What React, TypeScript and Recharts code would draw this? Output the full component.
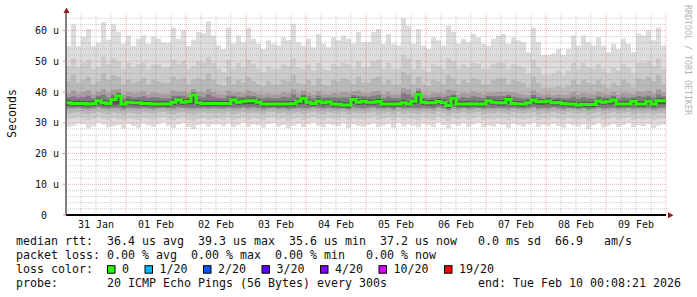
import React from "react";
import { ComposedChart, Area, Line, XAxis, YAxis, ReferenceLine } from "recharts";

// ---- data (2-hour columns, starting Jan 31 00:00, 120 columns) ----
const MED = [
  36.5,36.3,36.3,36.3,36.1,36.3,37.2,36.5,36.3,37.6, 38.7,36.1,36.7,36.5,36.5,36.3,36.3,36.1,36.1,36.1, 36.1,36.7,37.4,36.7,36.9,39.0,36.5,36.3,36.3,36.3,
  36.3,36.3,36.3,37.4,36.7,37.0,37.2,37.2,36.7,36.1, 36.1,36.1,36.1,36.1,36.1,36.2,37.0,38.0,36.7,36.3, 37.0,36.5,36.8,36.1,36.0,35.8,35.8,37.6,36.7,37.0,
  36.7,36.7,36.9,36.1,36.1,36.1,36.1,36.5,36.1,37.0, 39.3,36.7,36.5,36.5,36.9,36.6,35.6,38.0,36.1,36.1, 36.1,36.2,36.0,36.1,37.2,36.7,36.5,36.5,37.6,36.3,
  36.1,36.1,36.5,37.4,36.8,36.8,37.1,36.5,36.6,36.3, 36.1,36.1,35.8,36.0,35.9,35.9,37.1,36.7,36.9,37.4, 36.1,36.1,36.1,37.0,36.1,36.1,37.0,36.1,37.2,37.2,
];
const P1HI = [
  55,62,55,58,60.5,55,56,62.7,57,62, 59.5,55.7,58.4,55,57.3,58.4,55.7,58,57.3,56, 56,61,57.3,60,55,57,59.5,59,63,58.4,
  55.1,54,61,55.7,58.4,56.2,61,57.3,55.7,54, 56.8,55.7,55.1,57.8,56.8,62.2,56.2,55.1,57.3,54.6, 58.9,55.7,54.6,57.8,56.8,58.4,57.3,55.7,59.5,56.2,
  56.2,59.5,60.5,55.7,58.9,55.7,55.1,64,61.6,55.7, 60.5,55.1,54,57.8,56.8,55.1,61.6,59.5,55.7,57.3, 56.2,58.9,57.8,55.7,55.1,57.3,58.4,58.9,55.7,57.8,
  56.8,56.2,53,61,56.2,52,52,52.5,54,52, 54,58.4,55.1,58.4,56.2,55.1,57.8,55.1,53,55.7, 54,57.3,55.7,53,59,58.4,60,56.8,61,55.1,
];
const P1LO = [
  28.6,29.0,29.7,29.5,28.2,28.8,30.0,29.4,28.5,28.9, 29.3,28.1,29.6,29.0,28.4,29.8,29.2,28.7,29.5,30.1, 29.0,28.3,29.4,29.9,28.6,28.0,29.3,29.7,28.8,29.5,
  29.4,28.9,29.8,28.5,29.2,30.0,28.7,29.5,29.1,28.4, 29.6,29.9,28.8,29.3,28.2,29.0,29.7,28.6,29.4,30.1, 29.0,28.5,29.6,29.2,28.9,29.8,28.3,29.5,29.0,28.7,
  29.3,29.8,28.6,29.1,29.6,28.4,29.9,28.8,29.4,29.0, 28.5,29.7,29.2,28.6,30.0,29.3,28.2,29.5,29.0,29.8, 28.7,29.4,29.9,28.5,29.1,28.8,29.6,29.3,28.4,29.7,
  29.2,28.7,29.5,29.9,28.6,29.3,28.9,29.7,29.0,28.4, 29.6,29.1,28.8,29.4,28.0,29.2,29.8,28.5,29.0,29.6, 28.7,29.3,29.9,28.6,29.2,28.9,29.5,28.3,29.0,29.4,
];
const P2HI = [
  48.5,51,48,49.5,50.5,47.5,48,51.5,49,51, 50,47.5,49.5,48,49,49.5,47.5,49,49,48, 48,50.5,49,50,47.5,48.5,50,49.5,51.5,49.5,
  47.5,46.5,50.5,47.5,49.5,48,50.5,49,47.5,46.5, 48.5,47.5,47.5,49,48.5,51,48,47.5,49,47, 49.5,47.5,47,49,48.5,49.5,49,47.5,50,48,
  48,50,50.5,47.5,49.5,47.5,47.5,52,51,47.5, 50.5,47.5,46.5,49,48.5,47.5,51,50,47.5,49, 48,49.5,49,47.5,47.5,49,49.5,49.5,47.5,49,
  48.5,48,46,50.5,48,45.5,45.5,46,47,45.5, 47,49.5,47.5,49.5,48,47.5,49,47.5,46,48, 47,49,48,46,49.5,49.5,50,48.5,51,47.5,
];
const P2LO = [
  31.2,31.5,31.8,31.0,30.8,31.4,31.9,31.3,30.9,31.6, 31.1,30.7,31.5,31.2,30.9,31.7,31.3,31.0,31.6,31.8, 31.1,30.8,31.4,31.7,31.0,30.6,31.3,31.6,31.1,31.5,
  31.4,31.0,31.7,30.9,31.3,31.8,31.0,31.5,31.2,30.8, 31.6,31.8,31.1,31.4,30.7,31.2,31.6,30.9,31.5,31.9, 31.2,30.8,31.6,31.3,31.0,31.7,30.8,31.5,31.2,31.0,
  31.4,31.7,30.9,31.2,31.6,30.8,31.8,31.0,31.5,31.2, 30.8,31.6,31.3,30.9,31.9,31.4,30.6,31.5,31.2,31.7, 31.0,31.5,31.8,30.9,31.3,31.1,31.6,31.4,30.8,31.7,
  31.3,31.0,31.5,31.8,30.9,31.4,31.1,31.7,31.2,30.8, 31.6,31.3,31.0,31.5,30.6,31.3,31.7,30.9,31.2,31.6, 31.0,31.4,31.8,30.9,31.3,31.1,31.5,30.8,31.2,31.5,
];
const P3HI = [
  43.5,45.5,43,44,45,42.5,43.5,46,44,45.5, 45,42.5,44,43,43.5,44.5,42.5,44,43.5,43, 43,45,44,44.5,42.5,44,44.5,44,46,44,
  42.5,42,45,42.5,44,43,45,43.5,42.5,42, 43.5,42.5,42.5,44,43.5,45.5,43,42.5,44,42, 44.5,42.5,42,44,43.5,44.5,44,42.5,45,43,
  43,44.5,45,42.5,44,42.5,42.5,46.5,45.5,42.5, 45,42.5,42,44,43.5,42.5,45.5,44.5,42.5,44, 43,44.5,44,42.5,42.5,44,44.5,44.5,42.5,44,
  43.5,43,41.5,45,43,41.5,41.5,41.5,42,41.5, 42,44,42.5,44,43,42.5,44,42.5,41.5,43, 42,44,43,41.5,44.5,44,45,43.5,45.5,42.5,
];
const P3LO = [
  33.0,33.2,33.4,32.9,32.7,33.1,33.5,33.0,32.8,33.3, 33.0,32.6,33.2,33.0,32.8,33.4,33.1,32.9,33.3,33.5, 33.0,32.7,33.2,33.4,32.9,32.6,33.1,33.3,33.0,33.2,
  33.2,32.9,33.4,32.8,33.1,33.5,32.9,33.2,33.0,32.7, 33.3,33.5,33.0,33.2,32.6,33.0,33.3,32.8,33.2,33.6, 33.0,32.7,33.3,33.1,32.9,33.4,32.7,33.2,33.0,32.9,
  33.2,33.4,32.8,33.0,33.3,32.7,33.5,32.9,33.2,33.0, 32.7,33.3,33.1,32.8,33.6,33.2,32.5,33.2,33.0,33.4, 32.9,33.2,33.5,32.8,33.1,33.0,33.3,33.2,32.7,33.4,
  33.1,32.9,33.2,33.5,32.8,33.2,33.0,33.4,33.0,32.7, 33.3,33.1,32.9,33.2,32.6,33.1,33.4,32.8,33.0,33.3, 32.9,33.2,33.5,32.8,33.1,33.0,33.2,32.7,33.0,33.2,
];
const P4HI = [
  39.5,40.5,39.5,40,40.5,39.2,40,41,39.8,40.8, 41,39.3,40,39.6,39.8,40.2,39.3,39.8,39.6,39.4, 39.4,40.4,40,40.2,39.6,41,40,39.8,41,40,
  39.4,39.2,40.4,39.8,40,39.6,40.5,40,39.4,39.2, 39.6,39.3,39.3,40,39.7,40.8,39.6,40.5,39.8,39.2, 40.2,39.4,39.3,39.8,39.6,40,39.8,40.2,40.4,39.7,
  39.6,40.2,40.4,39.3,39.9,39.3,39.3,41.2,40.8,39.6, 41.2,39.4,39.2,39.8,39.7,39.4,40.8,40.5,39.3,39.8, 39.5,40.1,39.8,39.3,39.8,39.8,40,40,40,39.8,
  39.5,39.3,39,40.6,39.6,39.2,39.4,39,39.3,39, 39.2,40,39.2,39.8,39.5,39.3,40,39.6,39.3,40, 39.2,39.8,39.5,39.4,40.2,40,40.4,39.6,40.8,39.8,
];
const P4LO = [
  34.4,34.5,34.6,34.3,34.2,34.4,34.7,34.4,34.3,34.5, 34.4,34.1,34.5,34.4,34.3,34.6,34.4,34.2,34.5,34.6, 34.4,34.2,34.5,34.6,34.3,34.2,34.4,34.5,34.4,34.5,
  34.5,34.3,34.6,34.2,34.4,34.7,34.3,34.5,34.4,34.1, 34.5,34.6,34.3,34.4,34.1,34.3,34.5,34.2,34.4,34.7, 34.4,34.2,34.5,34.3,34.2,34.5,34.1,34.4,34.3,34.2,
  34.4,34.6,34.2,34.3,34.5,34.1,34.7,34.3,34.4,34.3, 34.2,34.5,34.4,34.2,34.7,34.4,34.0,34.5,34.3,34.6, 34.2,34.4,34.6,34.2,34.4,34.3,34.5,34.4,34.1,34.6,
  34.4,34.2,34.4,34.7,34.2,34.4,34.3,34.6,34.3,34.1, 34.5,34.4,34.2,34.4,34.0,34.3,34.6,34.2,34.3,34.5, 34.2,34.4,34.6,34.2,34.4,34.3,34.4,34.1,34.3,34.5,
];
const P5HI = [
  38.3,38.6,38.2,38.4,38.8,38.0,38.8,39.2,38.3,39.2, 39.8,38.0,38.6,38.2,38.4,38.6,38.1,38.4,38.2,38.0, 38.0,38.8,38.8,38.8,38.4,40.0,38.6,38.3,39.2,38.5,
  38.1,38.0,38.8,38.8,38.5,38.4,38.9,38.7,38.2,38.0, 38.2,38.0,38.0,38.5,38.3,39.2,38.4,39.2,38.6,38.0, 38.8,38.2,38.3,38.3,38.1,38.3,38.2,39.0,38.8,38.6,
  38.5,38.8,39.0,38.0,38.5,38.0,38.0,39.6,39.2,38.5, 40.4,38.2,38.0,38.4,38.5,38.2,38.8,39.2,38.0,38.4, 38.1,38.6,38.3,38.0,38.7,38.6,38.6,38.6,39.0,38.5,
  38.2,38.0,38.0,39.0,38.4,37.9,38.3,38.0,38.1,37.9, 37.9,38.5,37.8,38.4,38.0,37.9,38.6,38.3,38.2,38.8, 37.9,38.4,38.1,38.3,38.7,38.5,38.8,38.2,39.2,38.6,
];
const P5LO = [
  35.0,34.9,35.0,34.8,34.7,34.9,35.2,34.9,34.8,35.0, 35.0,34.6,35.0,34.9,34.8,35.0,34.9,34.7,34.9,35.0, 34.8,34.8,35.1,35.0,34.9,34.8,34.9,35.0,34.8,35.0,
  34.9,34.8,35.0,34.9,34.9,35.2,34.9,35.1,34.9,34.6, 34.9,35.0,34.7,34.9,34.6,34.8,35.0,34.9,34.9,35.1, 35.0,34.8,35.0,34.8,34.7,34.8,34.5,35.1,34.9,34.8,
  35.0,35.1,34.8,34.8,35.0,34.6,35.1,34.8,34.9,34.9, 34.8,35.0,34.9,34.7,35.2,34.9,34.3,35.1,34.8,35.0, 34.7,34.9,35.0,34.7,34.9,34.8,35.0,34.9,34.8,35.0,
  34.9,34.7,34.9,35.2,34.7,34.9,34.8,35.1,34.9,34.6, 34.9,34.8,34.6,34.8,34.5,34.7,35.0,34.7,34.8,35.0, 34.7,34.9,35.0,34.7,34.9,34.8,35.0,34.6,34.9,35.0,
];
const P6HI = [
  37.4,37.2,37.2,37.1,37.0,37.2,38.0,37.4,37.2,38.4, 39.4,37.0,37.6,37.3,37.4,37.2,37.1,37.0,37.0,37.0, 37.0,37.6,38.2,37.6,37.8,39.7,37.4,37.2,37.2,37.2,
  37.2,37.1,37.2,38.2,37.6,37.8,38.0,38.0,37.5,37.0, 37.0,37.0,37.0,37.0,37.0,37.1,37.8,38.8,37.5,37.2, 37.8,37.4,37.6,37.0,36.9,36.7,36.7,38.4,37.6,37.8,
  37.6,37.5,37.7,37.0,37.0,37.0,37.0,37.4,37.0,37.8, 40.0,37.6,37.4,37.4,37.7,37.5,36.6,38.8,37.0,37.0, 37.0,37.1,36.9,37.0,38.0,37.6,37.4,37.4,38.4,37.2,
  37.0,37.0,37.4,38.2,37.6,37.6,37.9,37.4,37.5,37.2, 37.0,37.0,36.7,36.9,36.8,36.8,37.9,37.6,37.7,38.2, 37.0,37.0,37.0,37.8,37.0,37.0,37.8,37.0,38.0,38.0,
];
const P6LO = [
  35.6,35.5,35.5,35.5,35.3,35.5,35.9,35.6,35.5,35.8, 35.9,35.3,35.8,35.6,35.6,35.5,35.5,35.3,35.3,35.3, 35.3,35.8,36.0,35.8,35.9,36.0,35.6,35.5,35.5,35.5,
  35.5,35.5,35.5,36.0,35.8,35.9,36.0,36.0,35.8,35.3, 35.3,35.3,35.3,35.3,35.3,35.4,35.9,36.2,35.8,35.5, 35.9,35.6,35.8,35.3,35.2,35.0,35.0,36.1,35.8,35.9,
  35.8,35.8,35.9,35.3,35.3,35.3,35.3,35.6,35.3,35.9, 36.3,35.8,35.6,35.6,35.9,35.7,34.8,36.2,35.3,35.3, 35.3,35.4,35.2,35.3,36.0,35.8,35.6,35.6,36.1,35.5,
  35.3,35.3,35.6,36.0,35.8,35.8,35.9,35.6,35.7,35.5, 35.3,35.3,35.0,35.2,35.1,35.1,35.9,35.8,35.9,36.0, 35.3,35.3,35.3,35.9,35.3,35.3,35.9,35.3,36.0,36.0,
];

const DAY_LABELS = ["31 Jan","01 Feb","02 Feb","03 Feb","04 Feb","05 Feb","06 Feb","07 Feb","08 Feb","09 Feb"];
const Y_LABEL_VALUES = [0, 10, 20, 30, 40, 50, 60];

const LEGEND_RTT = "median rtt:  36.4 us avg  39.3 us max  35.6 us min  37.2 us now   0.0 ms sd  66.9   am/s";
const LEGEND_LOSS = "packet loss: 0.00 % avg  0.00 % max  0.00 % min   0.00 % now";
const LEGEND_COLOR_TITLE = "loss color:";
const LOSS_LABELS = ["0", "1/20", "2/20", "3/20", "4/20", "10/20", "19/20"];
const LOSS_COLORS = ["#26ff00", "#00b8ff", "#0059ff", "#5e00ff", "#7e00ff", "#dd00ff", "#ff0000"];
const LEGEND_PROBE = "probe:       20 ICMP Echo Pings (56 Bytes) every 300s";
const LEGEND_END = "end: Tue Feb 10 00:08:21 2026";
const WATERMARK = "RRDTOOL / TOBI OETIKER";

const STEP_H = 2;
const N = MED.length;

const data = Array.from({ length: N + 1 }, (_, i) => {
  const j = Math.min(i, N - 1);
  return {
    t: i * STEP_H,
    b1: [P1LO[j], P1HI[j]],
    b2: [P2LO[j], P2HI[j]],
    b3: [P3LO[j], P3HI[j]],
    b4: [P4LO[j], P4HI[j]],
    b5: [P5LO[j], P5HI[j]],
    b6: [P6LO[j], P6HI[j]],
    med: MED[j],
  };
});

const MONO = '"DejaVu Sans Mono", monospace';
const W = 697;
const H = 297;

const labelTicks = DAY_LABELS.map((_, i) => 12 + 24 * i);
const minorV: number[] = [];
const majorV: number[] = [];
for (let h = 6; h <= 240; h += 6) (h % 24 === 0 ? majorV : minorV).push(h);
const minorH: number[] = [];
for (let v = 2; v <= 64; v += 2) if (v % 10 !== 0) minorH.push(v);
const majorH = Y_LABEL_VALUES.filter((v) => v > 0);

const YTick = (props: any) => {
  const { x, y, payload } = props;
  const v = payload.value;
  const txt = v === 0 ? "0" : `${v} u`;
  return (
    <text x={v === 0 ? x - 12 : x} y={y} dy="0.36em" textAnchor="end" fontFamily={MONO} fontSize={10} fill="#111">
      {txt}
    </text>
  );
};

const BAND_KEYS = ["b1", "b2", "b3", "b4", "b5", "b6"];
const BAND_COLORS = ["#dddddd", "#cccccc", "#b9b9b9", "#a0a0a0", "#7c7c7c", "#525252"];
const GRID_MINOR = "rgba(140,140,140,0.45)";
const GRID_MAJOR = "rgba(222,79,79,0.45)";

export default function App() {
  const lineY = [245, 259.1, 273.2, 287.3];
  let bx = 107;
  const boxes = LOSS_LABELS.map((lab, i) => {
    const x = bx;
    bx = x + 15 + lab.length * 7 + 15.5;
    return { x, lab, color: LOSS_COLORS[i] };
  });
  return (
    <div style={{ position: "absolute", left: 0, top: 0, width: W, height: H, background: "#fff" }}>
      <ComposedChart width={W} height={H} data={data} margin={{ top: 13, right: 31, left: 0, bottom: 62 }}>
        <XAxis
          dataKey="t"
          type="number"
          domain={[0, 240]}
          ticks={labelTicks}
          interval={0}
          tickFormatter={(v: number) => DAY_LABELS[(v - 12) / 24] ?? ""}
          tickLine={false}
          tickSize={0}
          tickMargin={5.5}
          height={20}
          axisLine={{ stroke: "#000", strokeWidth: 2 }}
          tick={{ fontFamily: MONO, fontSize: 10, fill: "#111" }}
          allowDataOverflow
        />
        <YAxis
          type="number"
          domain={[0, 65.7]}
          ticks={Y_LABEL_VALUES}
          interval={0}
          width={66}
          tickSize={3}
          tickMargin={4}
          tickLine={{ stroke: "#e09090" }}
          axisLine={{ stroke: "#555", strokeWidth: 1.5 }}
          tick={<YTick />}
          allowDataOverflow
        />
        {BAND_KEYS.map((k, i) => (
          <Area key={k} dataKey={k} type="stepAfter" stroke="none" fill={BAND_COLORS[i]} fillOpacity={1} isAnimationActive={false} dot={false} activeDot={false} />
        ))}
        {minorH.map((v) => (
          <ReferenceLine key={"mh" + v} y={v} stroke={GRID_MINOR} strokeDasharray="1 1" />
        ))}
        {minorV.map((h) => (
          <ReferenceLine key={"mv" + h} x={h} stroke={GRID_MINOR} strokeDasharray="1 1" />
        ))}
        {majorH.map((v) => (
          <ReferenceLine key={"MH" + v} y={v} stroke={GRID_MAJOR} strokeDasharray="1 1" />
        ))}
        {majorV.map((h) => (
          <ReferenceLine key={"MV" + h} x={h} stroke={GRID_MAJOR} strokeDasharray="1 1" />
        ))}
        <Line dataKey="med" type="stepAfter" stroke="#26ff00" strokeWidth={3} dot={false} activeDot={false} isAnimationActive={false} />
      </ComposedChart>
      <svg width={W} height={H} style={{ position: "absolute", left: 0, top: 0, pointerEvents: "none" }}>
        <polygon points="63.5,13 69.5,13 66.5,7.5" fill="#8a1a1a" />
        <polygon points="668,212.2 668,218.2 673.5,215.2" fill="#8a1a1a" />
        <text transform="translate(16,113.5) rotate(-90)" textAnchor="middle" fontFamily={MONO} fontSize={11.6} fill="#111">
          Seconds
        </text>
        <text transform="translate(685,5) rotate(90)" textAnchor="start" fontFamily={MONO} fontSize={8.3} fill="#b4b4b4">
          {WATERMARK}
        </text>
        <g fontFamily={MONO} fontSize={11.63} fill="#111" style={{ whiteSpace: "pre" }}>
          <text x={16} y={lineY[0]} xmlSpace="preserve">{LEGEND_RTT}</text>
          <text x={16} y={lineY[1]} xmlSpace="preserve">{LEGEND_LOSS}</text>
          <text x={16} y={lineY[2]} xmlSpace="preserve">{LEGEND_COLOR_TITLE}</text>
          {boxes.map((b) => (
            <g key={b.lab}>
              <rect x={b.x + 0.5} y={lineY[2] - 7.5} width={7.5} height={7.5} fill={b.color} stroke="#000" strokeWidth={1} />
              <text x={b.x + 15} y={lineY[2]}>{b.lab}</text>
            </g>
          ))}
          <text x={16} y={lineY[3]} xmlSpace="preserve">{LEGEND_PROBE}</text>
          <text x={478} y={lineY[3]} xmlSpace="preserve">{LEGEND_END}</text>
        </g>
      </svg>
    </div>
  );
}
